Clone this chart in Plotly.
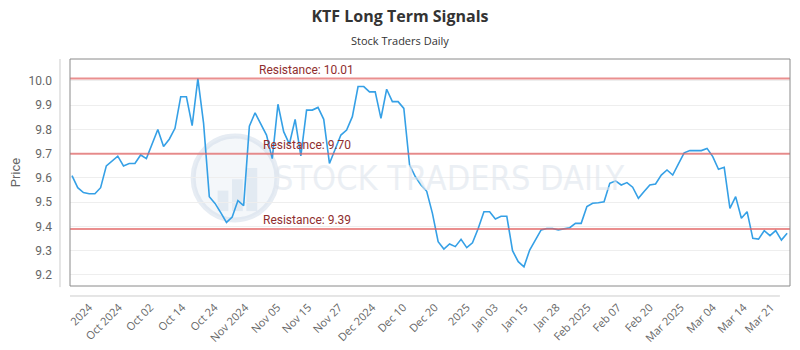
import plotly.graph_objects as go

# ---- data ----
prices = [
    9.61, 9.56, 9.54, 9.535, 9.535, 9.56, 9.65, 9.67, 9.69, 9.65, 9.66, 9.66, 9.695, 9.68, 9.74, 9.80, 9.73, 9.76, 9.805, 9.935, 9.935,
    9.816, 10.01, 9.825, 9.523, 9.495, 9.457, 9.417, 9.439, 9.507, 9.486, 9.814, 9.869, 9.825, 9.777, 9.680, 9.904, 9.791, 9.740, 9.842, 9.691, 9.880,
    9.880, 9.891, 9.842, 9.660, 9.718, 9.777, 9.798, 9.853, 9.977, 9.977, 9.955, 9.955, 9.846, 9.966, 9.915, 9.915, 9.887, 9.654, 9.606, 9.571, 9.545,
    9.454, 9.337, 9.307, 9.328, 9.317, 9.347, 9.313, 9.333, 9.392, 9.461, 9.461, 9.431, 9.442, 9.442, 9.300, 9.255, 9.234, 9.303, 9.342, 9.386, 9.392,
    9.392, 9.386, 9.392, 9.395, 9.413, 9.413, 9.482, 9.496, 9.498, 9.502, 9.578, 9.588, 9.571, 9.581, 9.562, 9.516, 9.544, 9.571, 9.575, 9.612, 9.633,
    9.612, 9.658, 9.704, 9.713, 9.713, 9.713, 9.722, 9.688, 9.636, 9.644, 9.475, 9.523, 9.434, 9.461, 9.351, 9.348, 9.383, 9.362, 9.383, 9.344, 9.372,
]
index = list(range(len(prices)))

resistance_levels = [10.01, 9.70, 9.39]
resistance_labels = ["Resistance: 10.01", "Resistance: 9.70", "Resistance: 9.39"]

tick_labels = ["2024", "Oct 2024", "Oct 02", "Oct 14", "Oct 24", "Nov 2024", "Nov 05", "Nov 15",
               "Nov 27", "Dec 2024", "Dec 10", "Dec 20", "2025", "Jan 03", "Jan 15", "Jan 28",
               "Feb 2025", "Feb 07", "Feb 20", "Mar 2025", "Mar 04", "Mar 14", "Mar 21"]
tick_positions = [3.0, 8.2, 13.7, 19.3, 24.9, 30.3, 35.9, 41.3, 46.7, 52.5, 57.9, 63.4,
                  69.0, 73.9, 79.1, 84.7, 90.1, 95.4, 101.0, 106.4, 112.0, 117.4, 122.2]

fig = go.Figure()
fig.add_trace(go.Scatter(x=index, y=prices, mode="lines",
                         line=dict(color="#35a0e6", width=1.6), hoverinfo="y",
                         showlegend=False))

shapes = []
annotations = []

# watermark logo
shapes.append(dict(type="circle", xref="paper", yref="paper", x0=0.171, x1=0.2875, y0=0.291, y1=0.661,
                   fillcolor="rgba(228,235,243,0.4)", line=dict(color="rgba(205,218,232,0.5)", width=5),
                   layer="below"))
for bx0, bx1, by1 in [(0.205, 0.220, 0.42), (0.225, 0.240, 0.47), (0.245, 0.260, 0.52)]:
    shapes.append(dict(type="rect", xref="paper", yref="paper", x0=bx0, x1=bx1, y0=0.33, y1=by1,
                       fillcolor="rgba(205,218,232,0.45)", line=dict(width=0), layer="below"))
annotations.append(dict(text="STOCK TRADERS DAILY", xref="paper", yref="paper", x=0.527, y=0.476,
                        showarrow=False,
                        font=dict(family="DejaVu Sans Condensed, Roboto, sans-serif", size=34,
                                  color="rgba(222,229,237,0.6)")))

for lvl, lab in zip(resistance_levels, resistance_labels):
    shapes.append(dict(type="line", xref="paper", yref="y", x0=0, x1=1, y0=lvl, y1=lvl,
                       line=dict(color="rgba(225,95,95,0.7)", width=2)))
    annotations.append(dict(text=lab, xref="paper", yref="y", x=0.3285, y=lvl, yanchor="bottom",
                            xanchor="center", showarrow=False, yshift=0,
                            font=dict(family="Roboto", size=12, color="#8f2e2e")))

# plot border
shapes.append(dict(type="rect", xref="paper", yref="paper", x0=0, x1=1, y0=0, y1=1,
                   line=dict(color="#8a8a8a", width=1)))
# separate x axis line
shapes.append(dict(type="line", xref="paper", yref="paper", x0=0, x1=0.986, y0=-0.044, y1=-0.044,
                   line=dict(color="#cccccc", width=1)))
# separate y axis line
shapes.append(dict(type="line", xref="paper", yref="paper", x0=-0.0139, x1=-0.0139, y0=-0.005, y1=1,
                   line=dict(color="#cccccc", width=1)))

annotations.append(dict(text="Stock Traders Daily", xref="paper", yref="paper", x=0.4583, y=1.0837,
                        xanchor="center", yanchor="middle", showarrow=False,
                        font=dict(family="Open Sans", size=11, color="#333333")))

fig.update_layout(
    width=800, height=350,
    margin=dict(l=70, r=10, t=59, b=64),
    paper_bgcolor="white", plot_bgcolor="white",
    title=dict(text="<b>KTF Long Term Signals</b>", x=0.5, xanchor="center", y=1 - 16 / 350,
               yanchor="middle", font=dict(family="Open Sans", size=16, color="#333333")),
    xaxis=dict(range=[-0.35, 125.5], showgrid=False, zeroline=False, showline=False,
               tickmode="array", tickvals=tick_positions, ticktext=tick_labels, tickangle=-45,
               tickfont=dict(family="Open Sans", size=11, color="#666666"), ticks="",
               ticklabelstandoff=12, automargin=False),
    yaxis=dict(range=[9.1546, 10.0907], tick0=9.2, dtick=0.1, tickformat=".1f",
               gridcolor="#eeeeee", gridwidth=1, zeroline=False, showline=False, ticks="",
               tickfont=dict(family="Roboto", size=12, color="#666666"), ticklabelstandoff=17,
               title=dict(text="Price", font=dict(family="Roboto", size=13, color="#666666"), standoff=5),
               automargin=False),
    shapes=shapes, annotations=annotations,
)

fig.write_html("out.html")
